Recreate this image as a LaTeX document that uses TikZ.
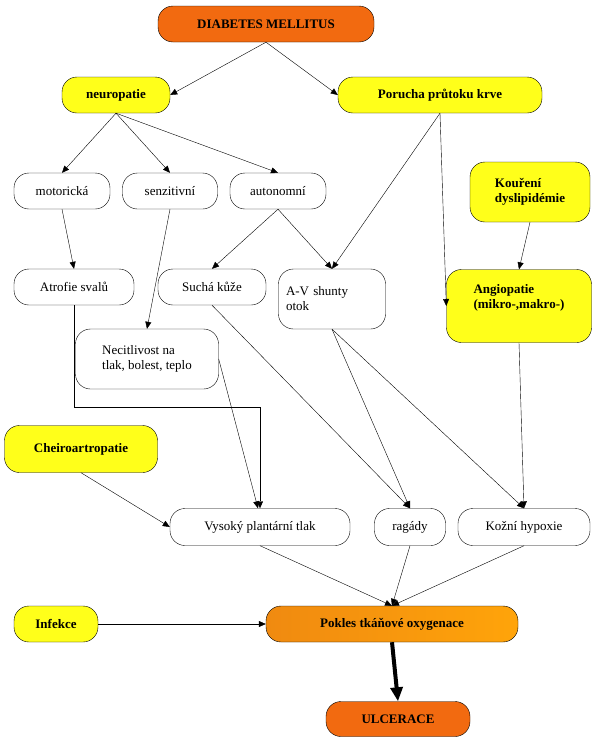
\documentclass[tikz,border=0pt]{standalone}
\usepackage{fontspec}
\setmainfont{Liberation Serif}
\usepackage{tikz}
\usetikzlibrary{arrows.meta}

\definecolor{dmorange}{HTML}{F26A10}
\definecolor{pokleft}{HTML}{F08A10}
\definecolor{pokright}{HTML}{FFA40A}
\definecolor{boxyellow}{HTML}{FFFF1A}

\begin{document}
\begin{tikzpicture}
[
    x = 1pt, y = -1pt,
    box/.style = {draw, rounded corners = 15pt, fill = white, inner sep = 0pt,
        font = \fontsize{13}{15}\selectfont},
    ybox/.style = {box, fill = boxyellow, font = \fontsize{13}{15}\selectfont\bfseries},
    obox/.style = {box, fill = dmorange, font = \fontsize{13}{15}\selectfont\bfseries},
    arr/.style = {-{Triangle[length=7pt,width=6pt]}},
]
\useasboundingbox (0,0) rectangle (607,742);
% top
\node[obox, minimum width = 216pt, minimum height = 36pt] (dm) at (266,24) {DIABETES MELLITUS};
\node[ybox, minimum width = 108pt, minimum height = 36pt] (neuro) at (116,95) {neuropatie};
\node[ybox, minimum width = 204pt, minimum height = 36pt] (porucha) at (440,95) {Porucha průtoku krve};
% neuropatie
\node[box, minimum width = 96pt, minimum height = 36pt] (motor) at (62,191) {motorická};
\node[box, minimum width = 95pt, minimum height = 36pt] (senz) at (170,191) {senzitivní};
\node[box, minimum width = 96pt, minimum height = 36pt] (auto) at (278,191) {autonomní};
\node[ybox, minimum width = 120pt, minimum height = 60pt, align = left] (kour) at (530,192) {Kouření\\dyslipidémie};
\node[box, minimum width = 120pt, minimum height = 36pt] (atrof) at (74,287) {Atrofie svalů};
\node[box, minimum width = 108pt, minimum height = 36pt] (sucha) at (212,287) {Suchá kůže};
\node[box, minimum width = 107pt, minimum height = 60pt, align = left, text width = 92pt] (av) at (332,299) {A-V shunty\\otok\\[4pt]};
\node[ybox, minimum width = 145pt, minimum height = 73pt, align = left] (angio) at (519,306) {Angiopatie\\(mikro-,makro-)\\[4pt]};
\node[box, minimum width = 143pt, minimum height = 60pt, align = left] (necit) at (147,359) {Necitlivost na\\tlak, bolest, teplo};
\node[ybox, minimum width = 153pt, minimum height = 47pt] (cheiro) at (81,449) {Cheiroartropatie};
% bottom
\node[box, minimum width = 180pt, minimum height = 37pt] (vysok) at (260,527) {Vysoký plantární tlak};
\node[box, minimum width = 71pt, minimum height = 37pt] (ragad) at (410,527) {ragády};
\node[box, minimum width = 132pt, minimum height = 37pt] (kozni) at (524,527) {Kožní hypoxie};
\node[ybox, minimum width = 84pt, minimum height = 36pt] (infek) at (56,624) {Infekce};
\node[box, minimum width = 252pt, minimum height = 36pt, left color = pokleft, right color = pokright,
    font = \fontsize{13}{15}\selectfont\bfseries] (pokles) at (392,624) {Pokles tkáňové oxygenace};
\node[obox, minimum width = 144pt, minimum height = 35pt] (ulcer) at (398,719) {ULCERACE};

\coordinate (elbow) at (260,407);

\draw[arr] (dm.south) -- (neuro.east);
\draw[arr] (dm.south) -- (porucha.west);
\draw[arr] (neuro.south) -- (motor.north);
\draw[arr] (neuro.south) -- (senz.north);
\draw[arr] (neuro.south) -- (auto.north);
\draw[arr] (porucha.south) -- (av.north);
\draw[arr] (porucha.south) -- (angio.west);
\draw[arr] (motor.south) -- (atrof.north);
\draw[arr] (senz.south) -- (necit.north);
\draw[arr] (auto.south) -- (sucha.north);
\draw[arr] (auto.south) -- (av.north);
\draw[arr] (kour.south) -- (angio.north);
\draw[arr] (atrof.south) |- (elbow) -- (vysok.north);
\draw[arr] (necit.east) -- ([xshift=-2pt]vysok.north);
\draw[arr] (cheiro.south) -- (vysok.west);
\draw[arr] (sucha.south) -- (ragad.north);
\draw[arr] (av.south) -- (ragad.north);
\draw[arr] (av.south) -- (kozni.north);
\draw[arr] (angio.south) -- (kozni.north);
\draw[arr] (vysok.south) -- (pokles.north);
\draw[arr] (ragad.south) -- (pokles.north);
\draw[arr] (kozni.south) -- (pokles.north);
\draw[arr] (infek.east) -- (pokles.west);
\draw[-{Triangle[length=14pt,width=12pt]}, line width = 4pt] (pokles.south) -- (ulcer.north);
\end{tikzpicture}
\end{document}
